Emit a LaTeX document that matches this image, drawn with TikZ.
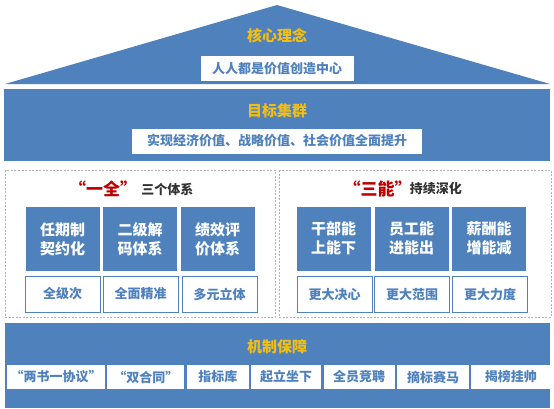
\documentclass[tikz,border=0pt]{standalone}
\usepackage{fontspec}
\setmainfont{Noto Sans CJK SC}
\usetikzlibrary{positioning}
\definecolor{mainblue}{RGB}{79,129,189}
\definecolor{titlegold}{RGB}{242,190,20}
\definecolor{quotered}{RGB}{192,0,0}
\definecolor{darktext}{RGB}{50,50,50}

\tikzset{
  goldtitle/.style={text=titlegold, font=\bfseries\fontsize{15}{17}\selectfont, inner sep=0pt},
  bandlabel/.style={fill=white, text=mainblue, font=\bfseries\fontsize{13}{15}\selectfont, inner sep=0pt, minimum height=25pt},
  pillar/.style={fill=mainblue, text=white, align=center, font=\bfseries\fontsize{15}{19}\selectfont, minimum width=74pt, minimum height=64pt, inner sep=0pt},
  pillarnote/.style={fill=white, draw=mainblue, line width=0.8pt, text=mainblue, font=\bfseries\fontsize{13}{15}\selectfont, minimum width=75pt, minimum height=36pt, inner sep=0pt},
  mechbox/.style={fill=white, text=mainblue, font=\bfseries\fontsize{13}{15}\selectfont, minimum height=24pt, inner sep=0pt},
  groupframe/.style={draw=gray!60, dash pattern=on 2pt off 1.5pt, line width=0.6pt},
  redtitle/.style={text=quotered, font=\bfseries\fontsize{17}{19}\selectfont, inner sep=0pt},
  greytitle/.style={text=darktext, font=\bfseries\fontsize{13}{15}\selectfont, inner sep=0pt}
}

\begin{document}
\begin{tikzpicture}[x=1pt,y=-1pt]
\useasboundingbox (0,0) rectangle (554,408);

% to draw the roof
\fill [mainblue] (5,84) -- (277,5) -- (550,84) -- cycle;
\node (coreTitle) [goldtitle] at (277,36) {核心理念};
\node (coreText) [bandlabel, minimum width=153pt] at (277,68.5) {人人都是价值创造中心};

% to draw the goal band
\fill [mainblue] (4,89) rectangle (550,161);
\node (goalTitle) [goldtitle] at (277,111) {目标集群};
\node (goalText) [bandlabel, minimum width=290pt] at (277,141) {实现经济价值、战略价值、社会价值全面提升};

% to draw dashed frames
\draw [groupframe] (5,170) rectangle (275,317);
\draw [groupframe] (279,170) rectangle (551,317);

% left group
\node (quanRed) [redtitle] at (103,189) {“一全”};
\node (quanSub) [greytitle, right=4pt of quanRed] {三个体系};

\node (renqi) [pillar] at (62.5,239) {任期制\\契约化};
\node (erji) [pillar] at (140,239) {二级解\\码体系};
\node (jixiao) [pillar] at (217.5,239) {绩效评\\价体系};

\node (quanji) [pillarnote] at (62.5,294) {全级次};
\node (quanmian) [pillarnote] at (140.5,294) {全面精准};
\node (duoyuan) [pillarnote] at (219.5,294) {多元立体};

% right group
\node (nengRed) [redtitle] at (377.5,189) {“三能”};
\node (nengSub) [greytitle, right=-2pt of nengRed] {持续深化};

\node (ganbu) [pillar] at (333.5,238.5) {干部能\\上能下};
\node (yuangong) [pillar] at (411.5,238.5) {员工能\\进能出};
\node (xinchou) [pillar] at (489,238.5) {薪酬能\\增能减};

\node (juexin) [pillarnote] at (334.5,294.5) {更大决心};
\node (fanwei) [pillarnote] at (412,294.5) {更大范围};
\node (lidu) [pillarnote] at (490,294.5) {更大力度};

% to draw the mechanism band
\fill [mainblue] (5,323) rectangle (550,408);
\node (mechTitle) [goldtitle] at (277,347) {机制保障};
\node (liangshu) [mechbox, minimum width=98pt] at (56,377) {“两书一协议”};
\node (shuanghe) [mechbox, minimum width=77pt, right=2pt of liangshu] {“双合同”};
\node (zhibiao) [mechbox, minimum width=62pt, right=2pt of shuanghe] {指标库};
\node (qili) [mechbox, minimum width=70pt, right=2pt of zhibiao] {起立坐下};
\node (quanyuan) [mechbox, minimum width=71pt, right=2pt of qili] {全员竞聘};
\node (zhaibiao) [mechbox, minimum width=72pt, right=2pt of quanyuan] {摘标赛马};
\node (jiebang) [mechbox, minimum width=79pt, right=2pt of zhaibiao] {揭榜挂帅};
\end{tikzpicture}
\end{document}
